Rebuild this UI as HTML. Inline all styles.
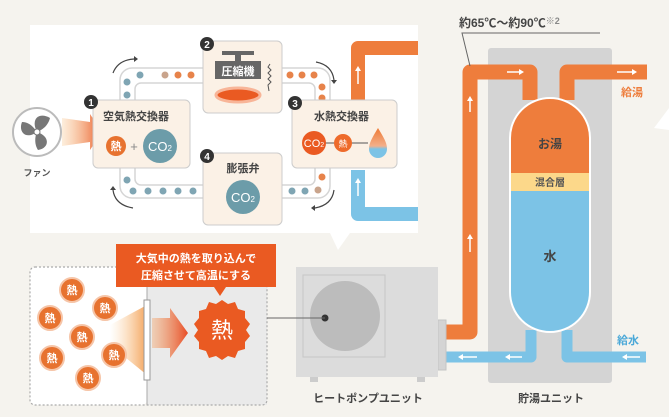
<!DOCTYPE html>
<html><head><meta charset="utf-8"><style>
html,body{margin:0;padding:0;background:#f5f3ee;}
svg{display:block;font-family:"Liberation Sans","Noto Sans CJK JP",sans-serif;}
</style></head><body>
<svg width="669" height="417" viewBox="0 0 669 417" xmlns="http://www.w3.org/2000/svg">
<defs>
<linearGradient id="fanG" x1="0" x2="1"><stop offset="0" stop-color="#f8c58a" stop-opacity="0.3"/><stop offset="1" stop-color="#ea5a28"/></linearGradient>
<linearGradient id="beamG" x1="0" x2="1"><stop offset="0" stop-color="#fbd3a0" stop-opacity="0"/><stop offset="1" stop-color="#f3a25a"/></linearGradient>
<linearGradient id="arrG" x1="0" x2="1"><stop offset="0" stop-color="#f3a56a" stop-opacity="0.4"/><stop offset="1" stop-color="#e84c25"/></linearGradient>
<linearGradient id="dropG" x1="0" x2="0" y1="0" y2="1"><stop offset="0" stop-color="#ee7a35"/><stop offset="0.6" stop-color="#f3b08a"/><stop offset="0.7" stop-color="#7cc3e6"/></linearGradient>
</defs>
<rect width="669" height="417" fill="#f5f3ee"/>
<polygon points="669,108 654,128 669,130" fill="#fff"/>

<!-- top white panel -->
<rect x="30" y="25" width="388" height="208" fill="#fff"/>
<polygon points="330,233 350,233 338,250" fill="#fff"/>

<!-- loop track -->
<rect x="120" y="68" width="210" height="130" rx="12" fill="none" stroke="#d5d5d5" stroke-width="1.5"/>
<rect x="135" y="83" width="180" height="102" rx="6" fill="none" stroke="#d5d5d5" stroke-width="1.5"/>
<g fill="#7fa5b3">
<circle cx="127" cy="95" r="3.5"/><circle cx="127" cy="82" r="3.5"/><circle cx="140" cy="75" r="3.5"/>
<circle cx="127" cy="180" r="3.5"/><circle cx="133" cy="191" r="3.5"/><circle cx="148" cy="191" r="3.5"/><circle cx="163" cy="191" r="3.5"/><circle cx="178" cy="191" r="3.5"/><circle cx="193" cy="191" r="3.5"/>
<circle cx="292" cy="191" r="3.5"/><circle cx="305" cy="191" r="3.5"/>
</g>
<g fill="#e7834a">
<circle cx="165" cy="75" r="3.5" fill="#c9a48c"/><circle cx="178" cy="75" r="3.5"/><circle cx="191" cy="75" r="3.5"/>
<circle cx="290" cy="75" r="3.5"/><circle cx="302" cy="75" r="3.5"/><circle cx="314" cy="75" r="3.5"/><circle cx="322" cy="87" r="3.5"/><circle cx="322" cy="98" r="3.5"/>
<circle cx="322" cy="177" r="3.5"/><circle cx="318" cy="190" r="3.5" fill="#c9a48c"/>
</g>
<g fill="none" stroke="#444" stroke-width="1.2">
<path d="M113,73 Q118,60 134,59"/><path d="M316,62 Q332,65 334,80"/>
<path d="M113,190 Q115,205 133,208"/><path d="M334,190 Q332,205 315,208"/>
</g>
<g fill="#444"><polygon points="134,56 138,59 134,62"/><polygon points="331,80 334,84 337,80"/><polygon points="110,190 113,186 116,190"/><polygon points="315,205 311,208 315,211"/></g>

<!-- fan -->
<circle cx="37" cy="132" r="24" fill="#fff" stroke="#bbb" stroke-width="2"/>
<g fill="#777">
<path d="M37,132 C30,118 40,112 50,118 C48,126 42,130 37,132Z"/>
<path d="M37,132 C50,136 50,148 38,150 C34,144 35,136 37,132Z"/>
<path d="M37,132 C26,140 18,132 22,122 C30,122 34,128 37,132Z"/>
</g>
<circle cx="37" cy="132" r="3" fill="#fff" stroke="#777"/>
<text x="37" y="176" font-size="9" fill="#555" text-anchor="middle" font-weight="bold">ファン</text>
<polygon points="62,118 90,122 90,114 102,132 90,150 90,142 62,146" fill="url(#fanG)"/>

<!-- box 1 -->
<rect x="93" y="100" width="97" height="68" rx="5" fill="#fbf1e6" stroke="#ccc"/>
<circle cx="91" cy="102" r="7" fill="#333"/><text x="91" y="106" font-size="10" fill="#fff" text-anchor="middle" font-weight="bold">1</text>
<text x="103" y="120" font-size="11" fill="#444" font-weight="bold">空気熱交換器</text>
<circle cx="116" cy="146" r="10" fill="#e7722f"/><text x="116" y="150" font-size="11" fill="#fff" text-anchor="middle" font-weight="bold">熱</text>
<text x="134" y="151" font-size="13" fill="#888" text-anchor="middle">+</text>
<circle cx="160" cy="146" r="17" fill="#6c9ca9"/><text x="160" y="151" font-size="13" fill="#fff" text-anchor="middle">CO<tspan font-size="8">2</tspan></text>

<!-- box 2 -->
<rect x="203" y="41" width="79" height="72" rx="5" fill="#fbf1e6" stroke="#ccc"/>
<circle cx="207" cy="44" r="7" fill="#333"/><text x="207" y="48" font-size="10" fill="#fff" text-anchor="middle" font-weight="bold">2</text>
<rect x="222" y="51" width="32" height="4" fill="#666"/><rect x="235" y="55" width="6" height="6" fill="#666"/>
<rect x="215" y="61" width="46" height="18" fill="#666"/>
<text x="238" y="75" font-size="11" fill="#fff" text-anchor="middle" font-weight="bold">圧縮機</text>
<ellipse cx="238" cy="95" rx="22" ry="7" fill="#ea5a22" stroke="#f8b598" stroke-width="3"/>
<path d="M270,64 l-2,3 l3,3 l-3,3 l3,3 l-3,3 l3,3 l-3,3 l1,6" fill="none" stroke="#555" stroke-width="1"/>

<!-- box 4 -->
<rect x="203" y="153" width="79" height="72" rx="5" fill="#fbf1e6" stroke="#ccc"/>
<circle cx="207" cy="156" r="7" fill="#333"/><text x="207" y="160" font-size="10" fill="#fff" text-anchor="middle" font-weight="bold">4</text>
<text x="243" y="172" font-size="11" fill="#444" text-anchor="middle" font-weight="bold">膨張弁</text>
<circle cx="243" cy="197" r="17" fill="#6c9ca9"/><text x="243" y="202" font-size="13" fill="#fff" text-anchor="middle">CO<tspan font-size="8">2</tspan></text>

<!-- pipes near box 3 -->
<path d="M358,100 V48 H418" fill="none" stroke="#ee7d3c" stroke-width="14" stroke-linejoin="round"/>
<path d="M358,170 V214 H418" fill="none" stroke="#7cc3e6" stroke-width="14" stroke-linejoin="round"/>
<g stroke="#fff" stroke-width="1.5"><line x1="358" y1="70" x2="358" y2="84"/><line x1="358" y1="182" x2="358" y2="196"/></g>
<g fill="#fff"><polygon points="355,71 358,66 361,71"/><polygon points="355,183 358,178 361,183"/></g>

<!-- box 3 -->
<rect x="292" y="100" width="105" height="68" rx="5" fill="#fbf1e6" stroke="#ccc"/>
<circle cx="295" cy="103" r="7" fill="#333"/><text x="295" y="107" font-size="10" fill="#fff" text-anchor="middle" font-weight="bold">3</text>
<text x="314" y="120" font-size="11" fill="#444" font-weight="bold">水熱交換器</text>
<line x1="320" y1="143" x2="368" y2="143" stroke="#555"/>
<circle cx="314" cy="143" r="12" fill="#ea5a22"/><text x="314" y="147" font-size="11" fill="#fff" text-anchor="middle">CO<tspan font-size="7">2</tspan></text>
<circle cx="343" cy="143" r="9" fill="#ee6b2b"/><text x="343" y="147" font-size="9" fill="#fff" text-anchor="middle">熱</text>
<path d="M378,128 C372,138 369,143 369,149 A9,9 0 0 0 387,149 C387,143 384,138 378,128Z" fill="url(#dropG)"/>

<!-- tank unit -->
<rect x="488" y="48" width="124" height="335" rx="3" fill="#d4d4d4"/>
<path d="M446,332 H470 V72 H530 V100" fill="none" stroke="#ee7d3c" stroke-width="15" stroke-linejoin="round"/>
<path d="M567,100 V72 H647" fill="none" stroke="#ee7d3c" stroke-width="15" stroke-linejoin="round"/>
<path d="M531,330 V357 H446" fill="none" stroke="#7cc3e6" stroke-width="11" stroke-linejoin="round"/>
<path d="M567,330 V357 H646" fill="none" stroke="#7cc3e6" stroke-width="11" stroke-linejoin="round"/>
<g stroke="#fff" stroke-width="1.5">
<line x1="470" y1="100" x2="470" y2="112"/><line x1="470" y1="238" x2="470" y2="252"/>
<line x1="507" y1="72" x2="520" y2="72"/><line x1="617" y1="72" x2="633" y2="72"/>
<line x1="462" y1="357" x2="477" y2="357"/><line x1="509" y1="357" x2="522" y2="357"/><line x1="626" y1="357" x2="640" y2="357"/>
</g>
<g fill="#fff">
<polygon points="467,101 470,96 473,101"/><polygon points="467,239 470,234 473,239"/>
<polygon points="519,69 524,72 519,75"/><polygon points="632,69 637,72 632,75"/>
<polygon points="463,354 458,357 463,360"/><polygon points="510,354 505,357 510,360"/><polygon points="627,354 622,357 627,360"/>
</g>
<clipPath id="tk"><rect x="510" y="98" width="80" height="234" rx="40"/></clipPath>
<g clip-path="url(#tk)">
<rect x="510" y="98" width="80" height="75" fill="#ee7d3c"/>
<rect x="510" y="173" width="80" height="18" fill="#fcd88a"/>
<rect x="510" y="191" width="80" height="141" fill="#7cc3e6"/>
</g>
<rect x="510" y="98" width="80" height="234" rx="40" fill="none" stroke="#fff" stroke-width="2"/>
<text x="550" y="148" font-size="12" fill="#444" text-anchor="middle" font-weight="bold">お湯</text>
<text x="550" y="186" font-size="10" fill="#555" text-anchor="middle" font-weight="bold">混合層</text>
<text x="550" y="261" font-size="13" fill="#444" text-anchor="middle" font-weight="bold">水</text>
<text x="621" y="96" font-size="11" fill="#ee7d3c" font-weight="bold">給湯</text>
<text x="617" y="344" font-size="11" fill="#4aa8d8" font-weight="bold">給水</text>
<text x="459" y="27" font-size="12" fill="#444" font-weight="bold">約65℃〜約90℃<tspan font-size="9" fill="#888" dy="-3">※2</tspan></text>
<polyline points="600,33 462,33 470,66" fill="none" stroke="#666" stroke-width="1"/>

<!-- heat pump unit -->
<rect x="438" y="320" width="8" height="50" fill="#d4d4d4" stroke="#c4c4c4"/>
<rect x="296" y="267" width="142" height="110" fill="#dcdcdc"/>
<rect x="303" y="275" width="82" height="82" fill="none" stroke="#c6c6c6"/>
<circle cx="345" cy="316" r="35" fill="#bcbcbc"/>
<circle cx="325" cy="318" r="3.5" fill="#333"/>
<rect x="310" y="377" width="8" height="5" fill="#ccc"/><rect x="417" y="377" width="8" height="5" fill="#ccc"/>
<text x="368" y="402" font-size="11" fill="#444" text-anchor="middle" font-weight="bold">ヒートポンプユニット</text>
<text x="551" y="402" font-size="11" fill="#444" text-anchor="middle" font-weight="bold">貯湯ユニット</text>

<!-- bottom-left panel -->
<rect x="30" y="267" width="117" height="138" rx="5" fill="#fff"/>
<rect x="147" y="267" width="120" height="138" fill="#eaeaea"/>
<rect x="30" y="267" width="237" height="138" rx="5" fill="none" stroke="#aaa" stroke-width="1.2" stroke-dasharray="2,2"/>
<line x1="147" y1="267" x2="147" y2="405" stroke="#aaa"/>
<line x1="267" y1="318" x2="325" y2="318" stroke="#666"/>
<polygon points="110,325 147,305 147,375 110,345" fill="url(#beamG)"/>
<rect x="144" y="300" width="6" height="80" fill="#fff" stroke="#999"/>
<polygon points="152,318 170,318 170,308 188,333 170,358 170,348 152,348" fill="url(#arrG)"/>
<g fill="#e7722f" stroke="#f6c5a8" stroke-width="2">
<circle cx="72" cy="290" r="12"/><circle cx="105" cy="308" r="12"/><circle cx="50" cy="318" r="12"/><circle cx="82" cy="337" r="12"/><circle cx="52" cy="358" r="12"/><circle cx="114" cy="355" r="12"/><circle cx="88" cy="378" r="12"/>
</g>
<g font-size="11" fill="#fff" text-anchor="middle" font-weight="bold">
<text x="72" y="294">熱</text><text x="105" y="312">熱</text><text x="50" y="322">熱</text><text x="82" y="341">熱</text><text x="52" y="362">熱</text><text x="114" y="359">熱</text><text x="88" y="382">熱</text>
</g>
<polygon points="222,300 228,304 235,302 238,309 245,311 245,318 250,324 246,330 250,336 245,342 245,349 238,351 235,358 228,356 222,360 216,356 209,358 206,351 199,349 199,342 194,336 198,330 194,324 199,318 199,311 206,309 209,302 216,304" fill="#ea5a22"/>
<text x="222" y="338" font-size="22" fill="#fff" text-anchor="middle">熱</text>
<rect x="116" y="244" width="160" height="43" fill="#ea5a22"/>
<polygon points="214,287 226,287 220,296" fill="#ea5a22"/>
<text x="196" y="262" font-size="11" fill="#fff" text-anchor="middle" font-weight="bold">大気中の熱を取り込んで</text>
<text x="196" y="279" font-size="11" fill="#fff" text-anchor="middle" font-weight="bold">圧縮させて高温にする</text>
</svg>
</body></html>
